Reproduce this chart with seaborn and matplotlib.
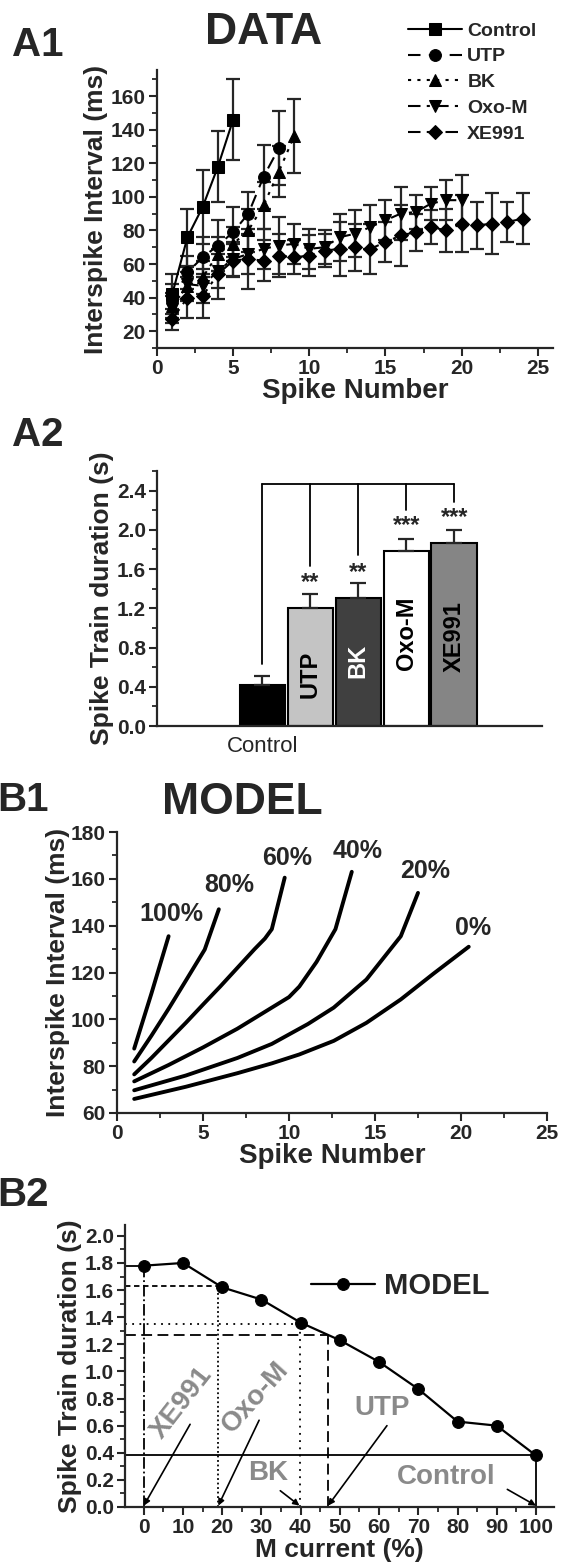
import numpy as np
import pandas as pd
import matplotlib
matplotlib.use('Agg')
import matplotlib.pyplot as plt
import seaborn as sns
from matplotlib.ticker import MultipleLocator, FormatStrFormatter

# ---- A1: dados experimentais (intervalo entre spikes, media +- erro) ----
ctrl_y = [42, 76, 94, 118, 146]
ctrl_e = [12, 17, 22, 21, 24]
utp_y = [38, 55, 64, 71, 79, 90, 112, 129]
utp_e = [10, 10, 12, 15, 15, 13, 19, 22]
bk_y = [35, 47, 52, 66, 72, 80, 95, 115, 136]
bk_e = [8, 8, 10, 10, 10, 13, 14, 15, 22]
oxo_y = [33, 48, 47, 56, 63, 66, 69, 71, 72, 69, 70, 76, 78, 82, 86, 90, 91, 96, 98, 98]
oxo_e = [8, 10, 10, 10, 10, 12, 12, 17, 12, 12, 10, 14, 14, 13, 12, 16, 10, 10, 12, 15]
xe_y = [27, 40, 41, 54, 62, 63, 62, 65, 64, 65, 68, 69, 70, 69, 73, 77, 79, 82, 80, 84, 83, 84, 85, 87]
xe_e = [6, 12, 13, 15, 10, 18, 12, 13, 10, 12, 10, 16, 14, 15, 12, 18, 11, 10, 13, 17, 14, 18, 12, 15]

# ---- A2: duracao do trem de spikes ----
grupos = ['Control', 'UTP', 'BK', 'Oxo-M', 'XE991']
dur = [0.42, 1.20, 1.31, 1.78, 1.87]
dur_e = [0.09, 0.15, 0.15, 0.13, 0.13]
cores_barra = ['#000000', '#c4c4c4', '#404040', '#ffffff', '#858585']
estrelas = ['', '**', '**', '***', '***']
estrela_y = [0, 1.46, 1.57, 2.04, 2.13]
rotulo_y = [0, 0.53, 0.66, 0.95, 0.91]
chave_topo = 2.47
chave_base = [0.63, 1.63, 1.74, 2.20, 2.28]

# ---- B1: curvas do modelo (x = numero do spike, y = ISI ms) ----
m100_x = [1, 2, 3]
m100_y = [87.5, 111, 135.5]
m80_x = [1, 2, 3, 4, 5.1, 5.92]
m80_y = [82, 93, 104.5, 116.5, 129.8, 147]
m60_x = [1, 2, 3, 4, 5, 6, 7, 8, 8.6, 9, 9.75]
m60_y = [76.5, 83.5, 91, 98.5, 106.3, 114, 122, 130, 134.5, 138.5, 160.5]
m40_x = [1, 3, 5, 7, 9, 10, 10.6, 11.6, 12.7, 13.65]
m40_y = [73.5, 80.5, 88, 96, 105, 109.5, 114, 124.5, 138.5, 163]
m20_x = [1, 4, 7, 9, 11.1, 12.6, 14.5, 16.5, 17.5]
m20_y = [69.7, 76, 83.5, 89.5, 98, 105, 117, 135.5, 154]
m0_x = [1, 4, 7, 9, 10.6, 12.6, 14.5, 16.5, 18.4, 20.45]
m0_y = [66, 71.2, 77, 81.2, 85, 90.8, 98.5, 108.5, 119.5, 131]
pct_rotulo = ['100%', '80%', '60%', '40%', '20%', '0%']
pct_rot_x = [3.15, 6.5, 9.9, 14.0, 17.9, 20.7]
pct_rot_y = [145, 157.5, 169, 172, 163.5, 139]

# ---- B2: duracao vs corrente M ----
m_pct = [0, 10, 20, 30, 40, 50, 60, 70, 80, 90, 100]
m_dur = [1.78, 1.80, 1.62, 1.53, 1.36, 1.23, 1.07, 0.87, 0.63, 0.60, 0.38]
droga = ['XE991', 'Oxo-M', 'BK', 'UTP', 'Control']
droga_pct = [0, 19, 39.7, 47, 100]
droga_dur = [1.78, 1.63, 1.35, 1.27, 0.38]
droga_txt_x = [9.8, 28.5, 31.6, 60.8, 77.2]
droga_txt_y = [0.77, 0.81, 0.25, 0.73, 0.22]
droga_rot = [52, 48, 0, 0, 0]
seta_x0 = [11.8, 29.4, 34.8, 62, 92.7]
seta_y0 = [0.61, 0.64, 0.12, 0.60, 0.13]

sns.set_style('ticks')
plt.rcParams['font.family'] = ['Liberation Sans', 'DejaVu Sans']
plt.rcParams['font.weight'] = 'bold'
plt.rcParams['axes.labelweight'] = 'bold'
plt.rcParams['axes.linewidth'] = 1.6
plt.rcParams['xtick.major.width'] = 1.5
plt.rcParams['ytick.major.width'] = 1.5
plt.rcParams['xtick.minor.width'] = 1.3
plt.rcParams['ytick.minor.width'] = 1.3
plt.rcParams['xtick.major.size'] = 6
plt.rcParams['ytick.major.size'] = 6
plt.rcParams['xtick.minor.size'] = 3.5
plt.rcParams['ytick.minor.size'] = 3.5
plt.rcParams['xtick.labelsize'] = 15
plt.rcParams['ytick.labelsize'] = 15
plt.rcParams['xtick.major.pad'] = 2
plt.rcParams['ytick.major.pad'] = 2

W, H = 561, 1565
fig = plt.figure(figsize=(W / 100, H / 100), dpi=100)


def caixa(l, t, r, b):
    return fig.add_axes([l / W, 1 - b / H, (r - l) / W, (b - t) / H])


def px(x, y):
    return x / W, 1 - y / H


# ================= A1 =================
ax1 = caixa(157, 70, 553, 348)
series = [
    ('Control', ctrl_y, ctrl_e, 's', '-', 8),
    ('UTP', utp_y, utp_e, 'o', (0, (6, 4)), 8.5),
    ('BK', bk_y, bk_e, '^', (0, (1.5, 3)), 8.5),
    ('Oxo-M', oxo_y, oxo_e, 'v', (0, (6, 3, 1.5, 3)), 8.5),
    ('XE991', xe_y, xe_e, 'D', (0, (6, 3, 1.5, 3, 1.5, 3)), 7),
]
for nome, y, e, mk, ls, ms in series:
    x = np.arange(1, len(y) + 1)
    ax1.errorbar(x, y, yerr=e, fmt='none', ecolor='#262626', elinewidth=1.6,
                 capsize=5, capthick=1.6, zorder=2)
    sns.lineplot(x=x, y=y, ax=ax1, marker=mk, linestyle=ls, color='black',
                 markersize=ms, markeredgecolor='black', markerfacecolor='black',
                 linewidth=1.5, label=nome, zorder=3)
ax1.set_xlim(0, 26)
ax1.set_ylim(10, 175.5)
ax1.set_yticks(range(20, 161, 20))
ax1.xaxis.set_major_locator(MultipleLocator(5))
ax1.xaxis.set_minor_locator(MultipleLocator(2.5))
ax1.yaxis.set_minor_locator(MultipleLocator(10))
ax1.set_xlabel('Spike Number', fontsize=20, labelpad=0)
ax1.set_ylabel('Interspike Interval (ms)', fontsize=19, labelpad=2)
sns.despine(ax=ax1)
ax1.legend(loc='upper left', bbox_to_anchor=px(408, 22), bbox_transform=fig.transFigure,
           frameon=False, fontsize=14, handlelength=2.8, handletextpad=0.25,
           labelspacing=0.42, borderpad=0, borderaxespad=0)

# ================= A2 =================
ax2 = caixa(157, 471, 542, 726)
df_barra = pd.DataFrame({'grupo': grupos, 'dur': dur})
sns.barplot(data=df_barra, x='grupo', y='dur', hue='grupo', palette=cores_barra,
            width=0.95, edgecolor='black', linewidth=1.5, legend=False,
            errorbar=None, ax=ax2)
ax2.errorbar(range(len(grupos)), dur, yerr=[np.zeros(len(dur)), dur_e], fmt='none',
             ecolor='#262626', elinewidth=1.6, capsize=6, capthick=1.6, zorder=1)
for i in range(1, len(grupos)):
    cor_txt = 'white' if grupos[i] == 'BK' else 'black'
    ax2.text(i, rotulo_y[i], grupos[i], rotation=90, ha='center', va='center',
             fontsize=17, color=cor_txt)
    ax2.text(i, estrela_y[i], estrelas[i], ha='center', va='center', fontsize=17)
ax2.plot([0, len(grupos) - 1], [chave_topo, chave_topo], color='black', lw=1.3)
for i in range(len(grupos)):
    ax2.plot([i, i], [chave_base[i], chave_topo], color='black', lw=1.3)
ax2.set_xlim(-2.2, 5.83)
ax2.set_ylim(0, 2.6)
ax2.set_yticks(np.arange(0, 2.5, 0.4))
ax2.yaxis.set_major_formatter(FormatStrFormatter('%.1f'))
ax2.yaxis.set_minor_locator(MultipleLocator(0.2))
ax2.set_xticks([0])
ax2.set_xticklabels(['Control'], fontweight='normal', fontsize=16)
ax2.tick_params(axis='x', length=0, pad=7)
ax2.set_xlabel('')
ax2.set_ylabel('Spike Train duration (s)', fontsize=19, labelpad=2)
sns.despine(ax=ax2)

# ================= B1 =================
ax3 = caixa(117, 832, 547, 1113)
curvas = [(m100_x, m100_y), (m80_x, m80_y), (m60_x, m60_y),
          (m40_x, m40_y), (m20_x, m20_y), (m0_x, m0_y)]
for cx, cy in curvas:
    sns.lineplot(x=cx, y=cy, ax=ax3, color='black', linewidth=2.8, sort=False)
for t, tx, ty in zip(pct_rotulo, pct_rot_x, pct_rot_y):
    ax3.text(tx, ty, t, ha='center', va='center', fontsize=18)
ax3.set_xlim(0, 25)
ax3.set_ylim(60, 180)
ax3.xaxis.set_major_locator(MultipleLocator(5))
ax3.xaxis.set_minor_locator(MultipleLocator(2.5))
ax3.yaxis.set_major_locator(MultipleLocator(20))
ax3.yaxis.set_minor_locator(MultipleLocator(10))
ax3.set_xlabel('Spike Number', fontsize=20, labelpad=0)
ax3.set_ylabel('Interspike Interval (ms)', fontsize=19, labelpad=1)
sns.despine(ax=ax3)

# ================= B2 =================
ax4 = caixa(125, 1225, 554, 1507)
x_esq = -4.8
sns.lineplot(x=m_pct, y=m_dur, ax=ax4, marker='o', markersize=8.5, color='black',
             markeredgecolor='black', linewidth=1.6, label='MODEL', zorder=4)
estilos_v = ['-.', (0, (1, 1.5)), (0, (1, 3)), (0, (6, 3)), '-']
estilos_h = ['-', (0, (3, 2)), (0, (1, 3)), (0, (6, 3)), '-']
for p, d, sv, sh in zip(droga_pct, droga_dur, estilos_v, estilos_h):
    ax4.plot([p, p], [0, d], color='black', lw=1.3, linestyle=sv)
    ax4.plot([x_esq, p], [d, d], color='black', lw=1.3, linestyle=sh)
for i, nome in enumerate(droga):
    ax4.text(droga_txt_x[i], droga_txt_y[i], nome, rotation=droga_rot[i],
             ha='center', va='center', fontsize=20, color='#8a8a8a')
    ax4.annotate('', xy=(droga_pct[i], 0.01), xytext=(seta_x0[i], seta_y0[i]),
                 arrowprops=dict(arrowstyle='-|>', color='black', lw=1.2,
                                 mutation_scale=9, shrinkA=0, shrinkB=0))
ax4.set_xlim(x_esq, 104.6)
ax4.set_ylim(0, 2.08)
ax4.xaxis.set_major_locator(MultipleLocator(10))
ax4.xaxis.set_minor_locator(MultipleLocator(5))
ax4.set_yticks(np.arange(0, 2.01, 0.2))
ax4.yaxis.set_major_formatter(FormatStrFormatter('%.1f'))
ax4.yaxis.set_minor_locator(MultipleLocator(0.1))
ax4.set_xlabel('M current (%)', fontsize=19, labelpad=1)
ax4.set_ylabel('Spike Train duration (s)', fontsize=19, labelpad=2)
sns.despine(ax=ax4)
ax4.legend(loc='center left', bbox_to_anchor=px(311, 1286), bbox_transform=fig.transFigure,
           frameon=False, fontsize=21, handlelength=2.2, handletextpad=0.3,
           borderpad=0, borderaxespad=0)

# ---- rotulos dos paineis ----
fig.text(*px(12, 45), 'A1', fontsize=29, va='center', ha='left')
fig.text(*px(264, 33), 'DATA', fontsize=32, va='center', ha='center')
fig.text(*px(12, 435), 'A2', fontsize=29, va='center', ha='left')
fig.text(*px(-3, 800), 'B1', fontsize=29, va='center', ha='left')
fig.text(*px(242, 802), 'MODEL', fontsize=32, va='center', ha='center')
fig.text(*px(-3, 1195), 'B2', fontsize=29, va='center', ha='left')

fig.savefig('out.png', dpi=100)
